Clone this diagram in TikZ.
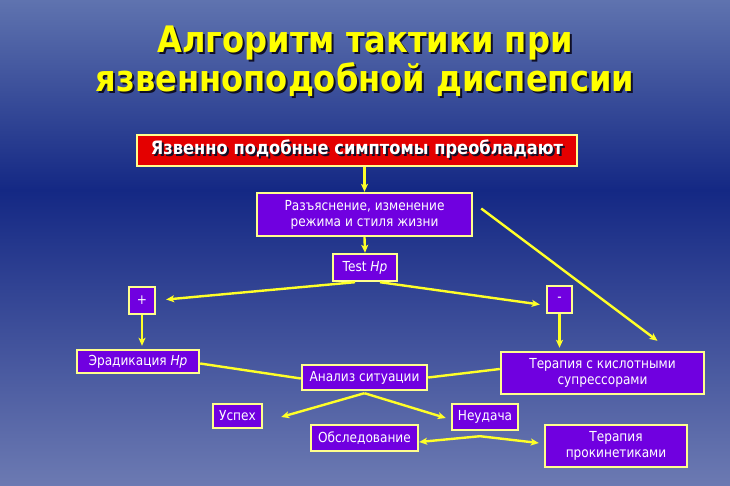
\documentclass[tikz,border=0pt]{standalone}
\usepackage{fontspec}
\setmainfont[FakeStretch=0.88]{DejaVu Sans}
\usetikzlibrary{arrows.meta}
\definecolor{bgtop}{RGB}{95,115,175}
\definecolor{bgmid}{RGB}{20,40,132}
\definecolor{bgbot}{RGB}{108,122,178}
\definecolor{boxpurple}{RGB}{112,0,224}
\definecolor{boxred}{RGB}{228,0,0}
\definecolor{edgeyel}{RGB}{255,255,140}
\definecolor{arryel}{RGB}{255,255,40}
\definecolor{titleyel}{RGB}{255,255,0}
\definecolor{shadowc}{RGB}{15,15,40}
\newcommand\shtext[1]{\makebox[0pt][l]{\hspace{2pt}\raisebox{-2pt}{\color{shadowc}#1}}#1}
\begin{document}
\begin{tikzpicture}[x=1pt,y=-1pt,
  box/.style={draw=edgeyel, line width=2.4pt, fill=boxpurple, text=white,
    font=\fontsize{13.8}{16}\selectfont, align=center, inner sep=0pt},
  conn/.style={draw=arryel, line width=2.4pt},
  arr/.style={conn, -{Stealth[length=8pt,width=7pt,inset=2pt]}}]
\useasboundingbox (0,0) rectangle (730,486);
\shade[top color=bgtop,bottom color=bgmid] (0,0) rectangle (730,190.5);
\shade[top color=bgmid,bottom color=bgbot] (0,190) rectangle (730,486);

\node[align=center, text=titleyel, font=\fontsize{36.5}{38}\selectfont\bfseries] (title) at (365,62)
  {\shtext{Алгоритм тактики при}\\\shtext{язвенноподобной диспепсии}};

\node[box, fill=boxred, minimum width=440pt, minimum height=31pt,
  font=\fontsize{18.5}{20}\selectfont\bfseries] (red) at (357,150.5)
  {\shtext{Язвенно подобные симптомы преобладают}};
\node[box, minimum width=215pt, minimum height=43pt] (expl) at (364.5,214.5)
  {Разъяснение, изменение\\режима и стиля жизни};
\node[box, minimum width=64pt, minimum height=27pt] (test) at (365,267.5) {Test \textit{Hp}};
\node[box, minimum width=26pt, minimum height=27pt] (plus) at (142,300.5) {+};
\node[box, minimum width=25pt, minimum height=27pt] (minus) at (559.5,299.5) {-};
\node[box, minimum width=122pt, minimum height=23pt] (erad) at (138,361.5) {Эрадикация \textit{Hp}};
\node[box, minimum width=125pt, minimum height=25pt] (anal) at (364.5,377.5) {Анализ ситуации};
\node[box, minimum width=203pt, minimum height=42pt] (ter1) at (602.5,373)
  {Терапия с кислотными\\супрессорами};
\node[box, minimum width=49pt, minimum height=24pt] (usp) at (237.5,416) {Успех};
\node[box, minimum width=66pt, minimum height=26pt] (neud) at (485,417) {Неудача};
\node[box, minimum width=107pt, minimum height=26pt] (obsl) at (364.5,438) {Обследование};
\node[box, minimum width=142pt, minimum height=42pt] (ter2) at (616,446)
  {Терапия\\прокинетиками};

\draw[arr] (expl.north |- red.south) -- (expl.north);
\draw[arr] (expl.south) -- (test.north);
\draw[arr] ([xshift=-10pt]test.south) -- ([xshift=10pt,yshift=1pt]plus.east);
\draw[arr] ([xshift=15pt]test.south) -- ([xshift=-6pt,yshift=-5pt]minus.west);
\draw[arr] (plus.south) -- ([yshift=3pt]plus.south |- erad.north);
\draw[arr] (minus.south) -- ([yshift=3pt]minus.south |- ter1.north);
\draw[arr] ([xshift=8pt,yshift=6pt]expl.east) -- ([xshift=55pt,yshift=10pt]ter1.north);
\draw[conn] ([yshift=-2pt]erad.east) -- ([yshift=-1pt]anal.west);
\draw[conn] ([yshift=4pt]ter1.west) -- (anal.east);
\draw[arr] ([yshift=-2pt]anal.south) -- ([xshift=18pt,yshift=-1pt]usp.east);
\draw[arr] ([yshift=-2pt]anal.south) -- ([xshift=-5pt,yshift=-1pt]neud.west);
\draw[arr] ([xshift=-5pt,yshift=-5pt]neud.south) -- ([yshift=-4pt]obsl.east);
\draw[arr] ([xshift=-5pt,yshift=-5pt]neud.south) -- ([xshift=-5pt,yshift=3pt]ter2.west);
\end{tikzpicture}
\end{document}
